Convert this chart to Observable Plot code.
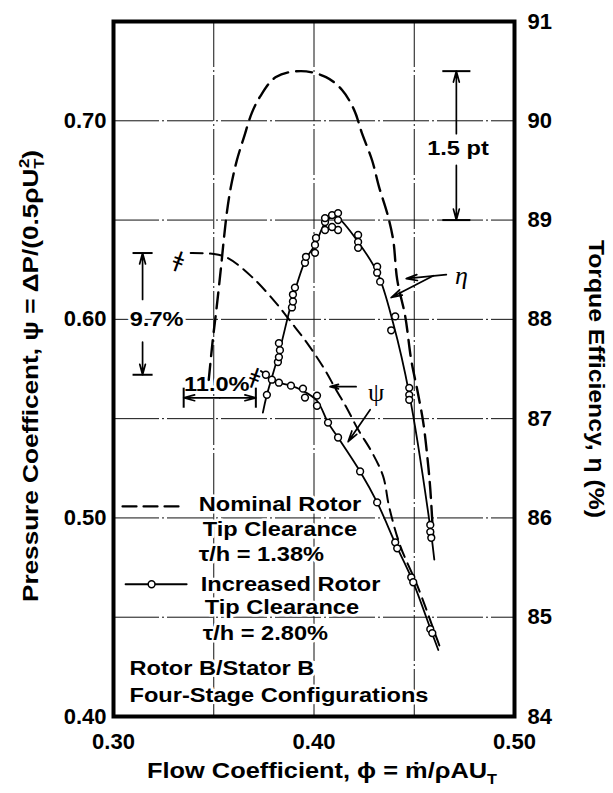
<!DOCTYPE html>
<html><head><meta charset="utf-8">
<script src="https://cdn.jsdelivr.net/npm/d3@7"></script>
<script src="https://cdn.jsdelivr.net/npm/@observablehq/plot@0.6"></script>
<style>
html,body{margin:0;padding:0;background:#fff;}
#chart svg{font-family:"Liberation Sans",Arial,sans-serif;background:#fff;}
</style></head><body><div id="chart"></div>
<script>
// ---------- data (phi = flow coefficient, psi = pressure coefficient, eta = torque efficiency %) ----------
// Nominal rotor tip clearance (dashed curves)
const nomEtaPhi = [0.3475,0.3495,0.3515,0.3535,0.355,0.3565,0.3585,0.3615,0.365,0.369,0.373,0.381,0.3935,0.406,0.414,0.420,0.424,0.429,0.4325,0.4365,0.4395,0.4415,0.4455,0.4485,0.4515,0.4545,0.4565,0.458,0.4595];
const nomEta    = [87.39,87.79,88.13,88.50,88.80,89.07,89.33,89.60,89.83,90.08,90.24,90.44,90.50,90.44,90.31,90.11,89.87,89.60,89.33,89.07,88.80,88.40,88.03,87.59,87.29,86.96,86.62,86.29,85.78];
const nomPsiPhi = [0.3385,0.350,0.357,0.369,0.381,0.3885,0.3965,0.4045,0.411,0.416,0.422,0.429,0.4345,0.4375,0.4430,0.4515,0.4610,0.4635];
const nomPsi    = [0.6334,0.6329,0.6309,0.6214,0.6083,0.5987,0.5882,0.5761,0.5646,0.5560,0.5445,0.5329,0.5209,0.5055,0.4860,0.4660,0.4400,0.4330];
// Increased rotor tip clearance: faired curves
const incEtaPhi = [0.3745,0.3765,0.3825,0.3895,0.3958,0.4005,0.4055,0.409,0.412,0.422,0.4318,0.4395,0.4475,0.4583,0.4600];
const incEta    = [87.06,87.24,87.66,88.22,88.60,88.75,88.97,89.03,89.02,88.78,88.46,87.96,87.25,85.86,85.58];
const incPsiPhi = [0.3735,0.376,0.379,0.3825,0.3885,0.3945,0.4015,0.407,0.412,0.423,0.4315,0.441,0.449,0.4585,0.462];
const incPsi    = [0.5740,0.5721,0.5696,0.5681,0.5666,0.5640,0.5590,0.5480,0.5405,0.5234,0.5078,0.4862,0.4688,0.4430,0.4335];
// Increased rotor tip clearance: measured points
const ptEtaPhi = [0.3765,0.382,0.3825,0.383,0.3825,0.389,0.3895,0.3895,0.3905,0.3955,0.396,0.4005,0.4005,0.401,0.4055,0.4055,0.4055,0.409,0.412,0.412,0.412,0.409,0.422,0.422,0.422,0.4315,0.4315,0.433,0.4405,0.4385,0.4475,0.4475,0.4475,0.458,0.458,0.4585];
const ptEta    = [87.24,87.57,87.62,87.69,87.76,88.12,88.18,88.25,88.32,88.57,88.63,88.67,88.75,88.82,88.90,88.98,89.02,89.05,89.07,89.00,88.90,88.93,88.85,88.78,88.72,88.53,88.47,88.38,88.03,87.89,87.31,87.24,87.19,85.93,85.86,85.80];
const ptPsiPhi = [0.376,0.379,0.3825,0.3885,0.3945,0.3955,0.4015,0.4015,0.407,0.412,0.423,0.4315,0.4405,0.4415,0.4485,0.4495,0.458,0.459];
const ptPsi    = [0.5721,0.5696,0.5681,0.5666,0.5651,0.5606,0.5616,0.5565,0.5480,0.5405,0.5234,0.5078,0.4877,0.4847,0.4701,0.4676,0.4440,0.4420];
// axis ticks
const xTicks = [0.30,0.40,0.50];
const psiTicks = [0.40,0.50,0.60,0.70];
const etaTicks = [84,85,86,87,88,89,90,91];
const xGrid = [0.35,0.40,0.45];
const yGrid = [0.45,0.50,0.55,0.60,0.65,0.70];
// titles
const xTitle = "Flow Coefficient, ϕ = ṁ/ρAU";
const yTitle = "Pressure Coefficent, ψ = ΔP/(0.5ρU";
const y2Title = "Torque Efficiency, η (%)";
// annotations
const bigNotes = ["1.5 pt","9.7%","11.0%"];
const bigNotePhi = [0.4718,0.3215,0.3515];
const bigNotePsi = [0.6860,0.5997,0.5671];
const legendText = ["Nominal Rotor","Tip Clearance","τ/h = 1.38%","Increased Rotor","Tip Clearance","τ/h = 2.80%","Rotor B/Stator B","Four-Stage Configurations"];
const legendPhi  = [0.3425,0.3445,0.3425,0.3435,0.3455,0.3445,0.308,0.308];
const legendPsi  = [0.5068,0.4942,0.4817,0.4666,0.4550,0.4415,0.4239,0.4103];
const etaSym = [{t:"η", x:0.4735, y:0.6220}];
const psiSym = [{t:"ψ", x:0.431, y:0.5630}];

// ---------- helpers ----------
const psiOf = e => 0.40 + (e - 84) / 20;
const zipRows = (xs, ys) => xs.map((x, i) => ({x, y: ys[i]}));
const nomEtaRows = zipRows(nomEtaPhi, nomEta.map(psiOf));
const nomPsiRows = zipRows(nomPsiPhi, nomPsi);
const incEtaRows = zipRows(incEtaPhi, incEta.map(psiOf));
const incPsiRows = zipRows(incPsiPhi, incPsi);
const ptRows = zipRows(ptEtaPhi, ptEta.map(psiOf)).concat(zipRows(ptPsiPhi, ptPsi));
const notes = bigNotes.map((t,i)=>({t, x: bigNotePhi[i], y: bigNotePsi[i]}));
const legend = legendText.map((t,i)=>({t, x: legendPhi[i], y: legendPsi[i]}));

// bracket / leader geometry (data coordinates)
const brTicks = [
  {x1:0.464,x2:0.478,y1:psiOf(90.5),y2:psiOf(90.5)},
  {x1:0.464,x2:0.478,y1:psiOf(89.0),y2:psiOf(89.0)},
  {x1:0.3095,x2:0.3195,y1:0.6334,y2:0.6334},
  {x1:0.3095,x2:0.3195,y1:0.5721,y2:0.5721},
  {x1:0.335,x2:0.335,y1:0.5555,y2:0.5656},
  {x1:0.371,x2:0.371,y1:0.5555,y2:0.5656}
];
const arrows = [
  {x1:0.471,y1:psiOf(89.87),x2:0.471,y2:psiOf(90.5)},
  {x1:0.471,y1:psiOf(89.55),x2:0.471,y2:psiOf(89.0)},
  {x1:0.3145,y1:0.6100,x2:0.3145,y2:0.6334},
  {x1:0.3145,y1:0.5885,x2:0.3145,y2:0.5721},
  {x1:0.353,y1:0.5605,x2:0.335,y2:0.5605},
  {x1:0.353,y1:0.5605,x2:0.371,y2:0.5605},
  {x1:0.466,y1:psiOf(88.45),x2:0.446,y2:psiOf(88.41)},
  {x1:0.4595,y1:psiOf(88.44),x2:0.4385,y2:psiOf(88.22)},
  {x1:0.421,y1:0.5661,x2:0.408,y2:0.5661},
  {x1:0.428,y1:0.5545,x2:0.417,y2:0.5384}
];
const breaks = [{x:0.3325,y:0.6299},{x:0.3705,y:0.5712}];
const legDash = [{x:0.3045,y:0.5058},{x:0.3355,y:0.5058}];
const legSolid = [{x:0.306,y:0.4666},{x:0.3365,y:0.4666}];
const legDot = [{x:0.319,y:0.4666}];

const BOLD = {fontWeight:"bold", fill:"black"};

const chart = Plot.plot({
  width: 613, height: 793,
  marginLeft: 113, marginRight: 99, marginTop: 21, marginBottom: 77,
  x: {domain:[0.30,0.50]},
  y: {domain:[0.40,0.75]},
  style: {fontFamily:"Liberation Sans, Arial, sans-serif", background:"white"},
  marks: [
    Plot.gridX(xGrid, {stroke:"#111", strokeOpacity:1, strokeWidth:1, strokeDasharray:"46,3,2,3"}),
    Plot.gridY(yGrid, {stroke:"#111", strokeOpacity:1, strokeWidth:1, strokeDasharray:"46,3,2,3"}),
    // texts with white halo (they break the grid lines)
    Plot.text(legend, {x:"x", y:"y", text:"t", textAnchor:"start", fontSize:20, ...BOLD, stroke:"white", strokeWidth:5}),
    Plot.text(notes, {x:"x", y:"y", text:"t", fontSize:20, ...BOLD, stroke:"white", strokeWidth:5}),
    // curves
    Plot.line(nomEtaRows, {x:"x", y:"y", curve:"catmull-rom", stroke:"black", strokeWidth:2.4, strokeDasharray:"16,8"}),
    Plot.line(nomPsiRows, {x:"x", y:"y", curve:"catmull-rom", stroke:"black", strokeWidth:2, strokeDasharray:"12,7"}),
    Plot.line(incEtaRows, {x:"x", y:"y", curve:"catmull-rom", stroke:"black", strokeWidth:1.8}),
    Plot.line(incPsiRows, {x:"x", y:"y", curve:"catmull-rom", stroke:"black", strokeWidth:1.8}),
    Plot.dot(ptRows, {x:"x", y:"y", r:3.4, fill:"white", stroke:"black", strokeWidth:1.5}),
    // legend samples
    Plot.line(legDash, {x:"x", y:"y", stroke:"black", strokeWidth:2.2, strokeDasharray:"14,7"}),
    Plot.line(legSolid, {x:"x", y:"y", stroke:"black", strokeWidth:1.8}),
    Plot.dot(legDot, {x:"x", y:"y", r:3.4, fill:"white", stroke:"black", strokeWidth:1.5}),
    // brackets and leaders
    Plot.link(brTicks, {x1:"x1", y1:"y1", x2:"x2", y2:"y2", stroke:"black", strokeWidth:2}),
    Plot.arrow(arrows, {x1:"x1", y1:"y1", x2:"x2", y2:"y2", stroke:"black", strokeWidth:1.7, headLength:10, headAngle:30}),
    Plot.text(breaks, {x:"x", y:"y", text:()=>"ǂ", fontSize:22, rotate:20, fill:"black", fontFamily:"DejaVu Sans"}),
    Plot.text(etaSym, {x:"x", y:"y", text:"t", fontSize:26, fontFamily:"Liberation Serif", fontStyle:"italic", fill:"black"}),
    Plot.text(psiSym, {x:"x", y:"y", text:"t", fontSize:26, fontFamily:"Liberation Serif", fill:"black"}),
    // frame and axes
    Plot.frame({stroke:"black", strokeWidth:4}),
    Plot.axisX(xTicks, {tickSize:0, tickPadding:17, tickFormat:d3.format(".2f"), fontSize:22, fontWeight:"bold", label:null}),
    Plot.axisY(psiTicks, {anchor:"left", tickSize:0, tickPadding:7, tickFormat:d3.format(".2f"), fontSize:22, fontWeight:"bold", label:null}),
    Plot.axisY(etaTicks.map(psiOf), {anchor:"right", tickSize:0, tickPadding:13, tickFormat:d => String(Math.round(84 + (d-0.40)*20)), fontSize:22, fontWeight:"bold", label:null}),
    // axis titles
    Plot.text([xTitle], {frameAnchor:"bottom", textAnchor:"middle", dx:8, dy:61, fontSize:22, fontWeight:"bold", fill:"black"}),
    Plot.text([yTitle], {frameAnchor:"left", textAnchor:"middle", dx:-83, dy:7, rotate:-90, fontSize:22, fontWeight:"bold", fill:"black"}),
    Plot.text([y2Title], {frameAnchor:"right", textAnchor:"middle", dx:82, dy:10, rotate:90, fontSize:22, fontWeight:"bold", fill:"black"})
  ]
});
document.getElementById("chart").appendChild(chart);

const svg = d3.select(chart);
// rich text for titles with subscripts / superscripts
function rich(node, parts){
  const t = d3.select(node); t.text(null);
  let shift = 0;
  for (const p of parts){
    const ts = t.append("tspan").text(p.s);
    const target = p.k === "sub" ? 6 : p.k === "sup" ? -9 : 0;
    ts.attr("dy", target - shift); shift = target;
    if (p.k) ts.attr("font-size", "64%");
    if (p.dx) ts.attr("dx", p.dx);
  }
}
function stretch(node, target){
  const L = node.getComputedTextLength();
  node.setAttribute("textLength", target(L));
  node.setAttribute("lengthAdjust", "spacingAndGlyphs");
}
const stretchSet = new Set([...legendText, ...bigNotes]);
svg.selectAll("text").each(function(){
  const s = this.textContent;
  if (s === xTitle) { rich(this, [{s:xTitle},{s:"T",k:"sub"}]); stretch(this, () => 350); }
  else if (s === yTitle) { rich(this, [{s:yTitle},{s:"T",k:"sub"},{s:"2",k:"sup",dx:-8},{s:")"}]); stretch(this, () => 452); }
  else if (s === y2Title) { stretch(this, () => 278); }
  else if (stretchSet.has(s)) { stretch(this, L => L * 1.18); }
});
</script></body></html>
